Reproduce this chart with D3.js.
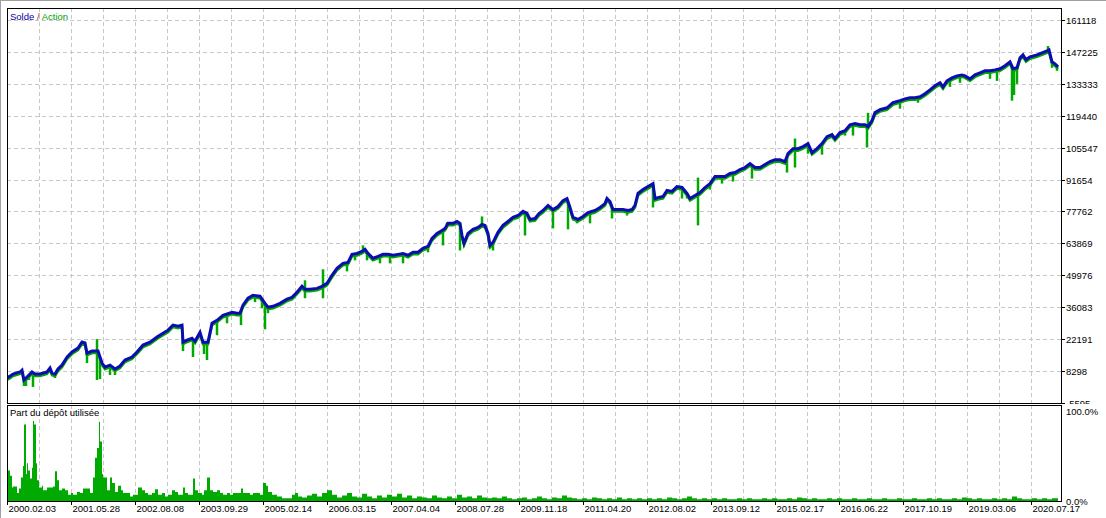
<!DOCTYPE html>
<html>
<head>
<meta charset="utf-8">
<script src="https://cdn.jsdelivr.net/npm/d3@7"></script>
<style>
  body { margin: 0; background: #fff; }
  svg { display: block; }
  text { font-family: "Liberation Sans", Arial, sans-serif; font-size: 9.5px; fill: #000; }
</style>
</head>
<body>
<div id="chart"></div>
<script>
// balance curve : [deal, balance in thousands]
var balance = [[0,5.3],[3,6.1],[6,7.0],[13,7.9],[15,8.7],[17,4.4],[20,5.7],[25,7.9],[28,7.0],[33,7.0],[40,7.9],[43,9.6],[45,7.4],[48,7.0],[51,9.2],[55,10.9],[60,14.4],[65,16.6],[71,18.3],[75,20.9],[78,20.5],[80,16.1],[85,17.0],[91,17.0],[95,11.8],[98,10.0],[103,10.9],[108,9.2],[113,10.5],[118,13.1],[125,14.4],[130,16.6],[136,19.6],[143,20.9],[150,23.1],[156,24.8],[161,26.1],[166,28.3],[171,27.8],[175,28.3],[176,20.9],[180,21.8],[185,22.6],[188,21.3],[193,25.2],[196,20.9],[201,20.9],[205,29.1],[210,30.4],[216,32.6],[225,33.9],[230,33.5],[233,33.5],[236,37.0],[241,40.0],[246,41.3],[253,40.9],[258,37.8],[261,36.1],[266,36.5],[273,37.8],[280,39.6],[285,40.4],[290,42.6],[295,45.2],[298,43.9],[303,43.9],[310,44.3],[315,45.2],[320,46.5],[325,50.0],[330,53.0],[336,55.2],[341,55.6],[345,59.1],[350,59.5],[355,60.4],[358,61.3],[361,59.5],[366,57.4],[371,58.2],[376,59.1],[381,59.1],[386,58.7],[391,59.1],[396,59.5],[401,58.7],[406,60.0],[411,60.0],[416,61.7],[421,62.6],[425,66.0],[430,68.2],[435,69.5],[438,70.4],[441,72.6],[446,72.6],[450,73.4],[453,72.6],[455,67.3],[457,63.9],[461,68.2],[466,70.0],[471,70.8],[475,72.1],[478,71.7],[481,68.2],[483,63.0],[486,64.3],[491,68.7],[496,71.7],[501,73.4],[506,75.2],[511,76.0],[516,77.8],[520,76.9],[523,74.3],[528,74.7],[532,76.9],[536,78.2],[541,80.4],[546,78.6],[551,79.9],[556,82.5],[560,83.4],[563,79.5],[566,75.2],[571,74.3],[576,75.6],[581,77.3],[588,78.2],[593,79.5],[598,81.2],[600,83.4],[603,82.1],[606,78.6],[611,78.6],[616,78.6],[621,78.2],[625,78.6],[628,80.4],[631,85.6],[636,87.3],[641,88.6],[646,89.9],[648,83.4],[651,83.8],[656,84.3],[660,86.9],[665,86.5],[670,88.6],[675,88.2],[680,85.6],[683,83.4],[688,84.7],[693,86.0],[698,88.2],[703,89.9],[708,93.0],[713,93.0],[718,93.0],[723,94.3],[728,94.7],[733,96.0],[738,96.9],[743,98.6],[748,96.9],[753,96.9],[758,98.2],[763,99.5],[768,100.3],[773,100.3],[778,99.5],[781,103.0],[786,105.1],[791,105.1],[796,106.0],[801,107.3],[805,103.4],[810,105.1],[815,107.3],[820,110.3],[825,111.2],[828,109.5],[833,112.1],[838,112.9],[843,115.5],[848,116.0],[853,115.5],[858,115.5],[861,114.7],[865,117.3],[868,120.8],[873,122.1],[880,122.9],[886,125.1],[893,126.0],[898,126.8],[903,127.3],[908,127.3],[913,127.7],[918,129.0],[923,130.7],[928,132.5],[933,133.8],[936,132.0],[940,134.6],[945,135.9],[950,136.8],[955,137.2],[958,136.8],[963,135.5],[968,137.2],[973,138.1],[978,139.0],[983,139.0],[988,139.4],[993,139.9],[998,141.2],[1003,142.9],[1006,139.9],[1010,140.3],[1013,144.6],[1016,145.9],[1019,143.8],[1023,145.1],[1030,145.9],[1035,146.8],[1040,147.7],[1042,148.1],[1045,142.9],[1048,142.0],[1051,140.7]];

// equity extremes away from balance : [deal, equity in thousands]
var equityLows = [[17,1.8],[19,1.8],[22,4.4],[26,1.4],[48,5.3],[80,11.8],[90,4.4],[93,4.8],[103,6.6],[108,6.6],[176,17.0],[186,14.4],[197,15.7],[200,13.1],[210,23.9],[220,29.1],[234,28.3],[248,38.3],[255,35.6],[258,26.5],[261,33.5],[298,40.0],[316,40.0],[340,51.7],[348,56.5],[360,56.5],[373,55.2],[383,55.2],[396,55.2],[421,60.0],[436,63.0],[453,60.8],[483,61.7],[486,60.8],[518,67.3],[546,70.4],[561,70.0],[570,72.6],[583,72.6],[605,74.7],[620,76.0],[646,79.5],[655,83.0],[675,83.4],[680,83.4],[691,71.7],[703,87.3],[715,89.9],[726,90.8],[745,92.1],[780,94.7],[788,96.9],[801,102.9],[815,102.5],[828,109.0],[838,110.8],[846,110.8],[860,105.6],[893,122.5],[911,125.1],[943,132.0],[953,133.8],[983,135.5],[990,134.6],[1005,126.0],[1007,128.5],[1010,133.3],[1045,140.3],[1050,139.0]];
var equityHighs = [[90,22.2],[298,47.8],[316,52.6],[356,63.0],[440,73.0],[475,75.6],[691,92.5],[788,109.5],[861,120.7],[1041,149.8]];

// deposit load, percent : [deal, %]
var usage = [[0,34],[2,34],[3,28],[5,15],[6,16],[8,16],[10,9],[12,14],[14,26],[16,39],[17,85],[18,85],[19,30],[20,42],[21,34],[23,25],[25,37],[26,89],[27,85],[29,42],[30,23],[32,15],[35,17],[36,12],[40,15],[43,15],[46,16],[48,33],[50,23],[52,12],[55,14],[58,12],[61,7],[64,9],[66,7],[70,10],[73,9],[76,14],[80,14],[83,9],[86,26],[88,48],[90,59],[92,88],[93,66],[95,30],[96,26],[100,12],[103,26],[105,20],[108,10],[111,17],[114,12],[116,9],[120,9],[123,5],[126,7],[131,15],[135,12],[138,9],[141,7],[145,9],[148,13],[151,7],[155,9],[158,5],[161,7],[165,12],[168,10],[171,7],[176,15],[178,9],[181,7],[186,25],[188,12],[191,9],[195,7],[197,12],[200,26],[203,12],[206,10],[210,12],[213,9],[216,7],[220,9],[223,7],[226,9],[230,9],[234,14],[236,9],[240,9],[243,7],[246,9],[250,9],[253,7],[256,20],[259,17],[261,10],[265,7],[270,5],[275,3],[280,3],[285,7],[288,9],[291,5],[295,4],[300,6],[305,8],[310,5],[315,9],[320,12],[325,7],[330,4],[335,6],[340,9],[345,5],[350,4],[355,8],[360,5],[365,3],[370,6],[375,4],[380,7],[385,5],[390,8],[395,4],[400,6],[405,3],[410,5],[415,4],[420,3],[425,6],[430,4],[435,3],[440,5],[445,3],[450,7],[455,4],[460,5],[465,3],[470,6],[475,4],[480,3],[485,4],[490,3],[495,5],[500,3],[505,2],[510,3],[515,4],[520,2],[525,3],[530,5],[535,3],[540,2],[545,4],[550,3],[555,6],[560,4],[565,3],[570,2],[575,3],[580,2],[585,4],[590,3],[595,2],[600,3],[605,2],[610,4],[615,2],[620,3],[625,2],[630,3],[635,2],[640,3],[645,2],[650,3],[655,2],[660,4],[665,3],[670,2],[675,3],[680,5],[685,3],[690,2],[695,3],[700,2],[705,3],[710,2],[715,3],[720,2],[725,2],[730,3],[735,2],[740,3],[745,2],[750,2],[755,3],[760,2],[765,3],[770,2],[775,2],[780,3],[785,2],[790,4],[795,3],[800,2],[805,3],[810,2],[815,2],[820,3],[825,2],[830,3],[835,2],[840,2],[845,3],[850,2],[855,2],[860,3],[865,2],[870,2],[875,3],[880,2],[885,2],[890,3],[895,2],[900,2],[905,3],[910,2],[915,2],[920,3],[925,2],[930,3],[935,2],[940,2],[945,3],[950,2],[955,4],[960,3],[965,2],[970,3],[975,2],[980,2],[985,3],[990,2],[995,3],[1000,2],[1005,5],[1010,3],[1015,2],[1020,2],[1025,3],[1030,2],[1035,3],[1040,2],[1045,3],[1051,2]];

// axis labels
var yTickLabels = ["-5595","8298","22191","36083","49976","63869","77762","91654","105547","119440","133333","147225","161118"];
var dateLabels = ["2000.02.03","2001.05.28","2002.08.08","2003.09.29","2005.02.14","2006.03.15","2007.04.04","2008.07.28","2009.11.18","2011.04.20","2012.08.02","2013.09.12","2015.02.17","2016.06.22","2017.10.19","2019.03.06","2020.07.17"];
var dateDeals = [0,64,128,192,256,320,384,448,512,576,640,704,768,832,896,960,1024];

var size = { width: 1106, height: 518 };
var frame = { left: 7, right: 1061, top: 8, bottom: 403, lowTop: 405, lowBottom: 501 };

var svg = d3.select("#chart").append("svg")
	.attr("width", size.width)
	.attr("height", size.height);

// scales
var x = d3.scaleLinear().domain([0, 1054]).range([frame.left, frame.right]);
var yTicks = yTickLabels.map(function(d) { return +d; });
var y = d3.scaleLinear().domain([-5595, 166328]).range([frame.bottom, frame.top]);
var yp = d3.scaleLinear().domain([0, 100]).range([frame.lowBottom, 411]);

// outer window edge
svg.append("line").attr("x1", 0).attr("x2", size.width).attr("y1", 0.5).attr("y2", 0.5).attr("stroke", "#a0a0a0");
svg.append("line").attr("x1", 0.5).attr("x2", 0.5).attr("y1", 0).attr("y2", size.height).attr("stroke", "#a0a0a0");

var grid = svg.append("g").attr("stroke", "#c8c8c8").attr("stroke-dasharray", "4,3");

// horizontal grid (top panel)
grid.selectAll(".hg").data(yTicks.slice(1)).enter().append("line")
	.attr("x1", frame.left).attr("x2", frame.right)
	.attr("y1", function(d) { return Math.round(y(d)) + 0.5; })
	.attr("y2", function(d) { return Math.round(y(d)) + 0.5; });

// vertical grid (both panels)
var gridDeals = d3.range(32, 1025, 32);
grid.selectAll(".vg1").data(gridDeals).enter().append("line")
	.attr("x1", function(d) { return Math.round(x(d)) + 0.5; })
	.attr("x2", function(d) { return Math.round(x(d)) + 0.5; })
	.attr("y1", frame.top).attr("y2", frame.bottom);
grid.selectAll(".vg2").data(gridDeals).enter().append("line")
	.attr("x1", function(d) { return Math.round(x(d)) + 0.5; })
	.attr("x2", function(d) { return Math.round(x(d)) + 0.5; })
	.attr("y1", frame.lowTop).attr("y2", frame.lowBottom);

// clip for the curves
svg.append("clipPath").attr("id", "topclip").append("rect")
	.attr("x", frame.left).attr("y", frame.top)
	.attr("width", frame.right - frame.left).attr("height", frame.bottom - frame.top);

var curves = svg.append("g").attr("clip-path", "url(#topclip)");

var balanceAt = function(deal) {
	var i = d3.bisector(function(d) { return d[0]; }).left(balance, deal);
	if (i <= 0) return balance[0][1];
	if (i >= balance.length) return balance[balance.length - 1][1];
	var a = balance[i - 1], b = balance[i];
	return a[1] + (b[1] - a[1]) * (deal - a[0]) / (b[0] - a[0]);
};

var line = d3.line()
	.x(function(d) { return x(d[0]); })
	.y(function(d) { return y(d[1] * 1000); });

// equity hugging the balance underneath
curves.append("path")
	.datum(balance)
	.attr("d", line)
	.attr("transform", "translate(0,2)")
	.attr("fill", "none")
	.attr("stroke", "#00a800")
	.attr("stroke-width", 2.5);

// equity spikes
curves.selectAll(".spike").data(equityLows.concat(equityHighs)).enter().append("line")
	.attr("x1", function(d) { return x(d[0]); })
	.attr("x2", function(d) { return x(d[0]); })
	.attr("y1", function(d) { return y(balanceAt(d[0]) * 1000); })
	.attr("y2", function(d) { return y(d[1] * 1000); })
	.attr("stroke", "#00a800")
	.attr("stroke-width", 2.5);

// balance
curves.append("path")
	.datum(balance)
	.attr("d", line)
	.attr("fill", "none")
	.attr("stroke", "#0c0cb0")
	.attr("stroke-width", 3)
	.attr("stroke-linejoin", "miter");

// deposit load bars
var area = d3.area()
	.curve(d3.curveStepAfter)
	.x(function(d) { return x(d[0]); })
	.y0(frame.lowBottom)
	.y1(function(d) { return yp(d[1]); });

svg.append("path")
	.datum(usage)
	.attr("d", area)
	.attr("fill", "#00aa00");

// frames
svg.append("rect")
	.attr("x", frame.left + 0.5).attr("y", frame.top + 0.5)
	.attr("width", frame.right - frame.left).attr("height", frame.bottom - frame.top)
	.attr("fill", "none").attr("stroke", "#000");
svg.append("rect")
	.attr("x", frame.left + 0.5).attr("y", frame.lowTop + 0.5)
	.attr("width", frame.right - frame.left).attr("height", frame.lowBottom - frame.lowTop)
	.attr("fill", "none").attr("stroke", "#000");

// right axis labels (top panel)
svg.append("clipPath").attr("id", "labclip").append("rect")
	.attr("x", 0).attr("y", 0).attr("width", size.width).attr("height", 404);
var ylab = svg.append("g").attr("clip-path", "url(#labclip)");
yTicks.forEach(function(v, i) {
	var yy = Math.round(y(v)) + 0.5;
	ylab.append("line").attr("x1", frame.right).attr("x2", frame.right + 4)
		.attr("y1", yy).attr("y2", yy).attr("stroke", "#000");
	ylab.append("text").attr("x", frame.right + 5).attr("y", yy + 3.5).text(yTickLabels[i]);
});

// right axis labels (bottom panel)
svg.append("text").attr("x", frame.right + 5).attr("y", yp(100) + 3.5).text("100.0%");
svg.append("text").attr("x", frame.right + 5).attr("y", yp(0) + 3.5).text("0.0%");

// date axis
dateDeals.forEach(function(d, i) {
	var xx = Math.round(x(d)) + 0.5;
	svg.append("line").attr("x1", xx).attr("x2", xx)
		.attr("y1", frame.lowBottom).attr("y2", frame.lowBottom + 4).attr("stroke", "#000");
	svg.append("text").attr("x", xx + 1).attr("y", 512).text(dateLabels[i]);
});

// legends
var leg = svg.append("text").attr("x", 10).attr("y", 20);
leg.append("tspan").attr("fill", "#0000a0").text("Solde ");
leg.append("tspan").attr("fill", "#b03010").text("/");
leg.append("tspan").attr("fill", "#00a000").text(" Action");

svg.append("text").attr("x", 10).attr("y", 416).text("Part du dépôt utilisée");
</script>
</body>
</html>
